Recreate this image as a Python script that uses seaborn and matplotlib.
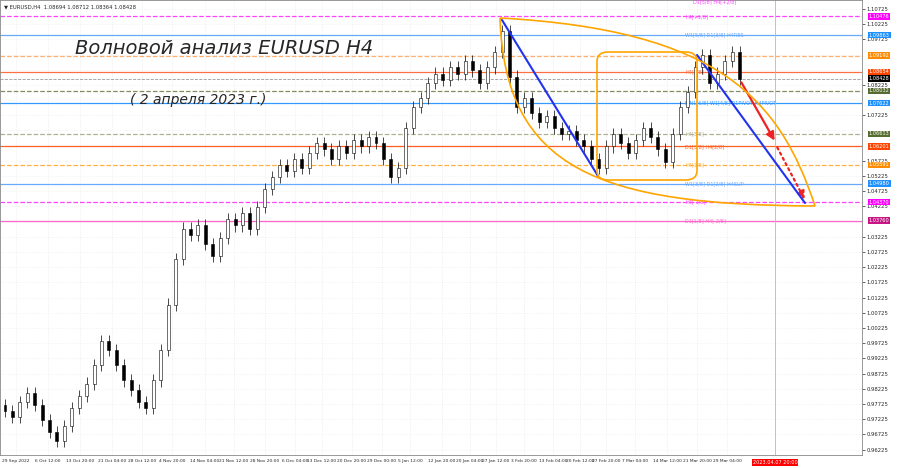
import numpy as np
import pandas as pd
import seaborn as sns
import matplotlib.pyplot as plt
from matplotlib.patches import FancyBboxPatch, PathPatch
from matplotlib.path import Path
from matplotlib.transforms import blended_transform_factory

# approximate closes of EURUSD H4 (resampled)
closes = [0.975, 0.973, 0.978, 0.981, 0.977, 0.972, 0.968, 0.965, 0.970, 0.976,
          0.980, 0.984, 0.990, 0.998, 0.995, 0.990, 0.985, 0.982, 0.978, 0.976,
          0.985, 0.995, 1.010, 1.025, 1.035, 1.033, 1.036, 1.030, 1.026, 1.032,
          1.038, 1.036, 1.040, 1.035, 1.042, 1.048, 1.052, 1.056, 1.054, 1.058,
          1.055, 1.060, 1.063, 1.061, 1.058, 1.062, 1.060, 1.064, 1.062, 1.065,
          1.063, 1.058, 1.052, 1.055, 1.068, 1.075, 1.078, 1.083, 1.086, 1.084,
          1.088, 1.086, 1.090, 1.087, 1.083, 1.088, 1.093, 1.100, 1.085, 1.075,
          1.078, 1.073, 1.070, 1.072, 1.068, 1.066, 1.067, 1.064, 1.062, 1.058,
          1.055, 1.062, 1.066, 1.063, 1.060, 1.064, 1.068, 1.065, 1.061, 1.057,
          1.066, 1.075, 1.080, 1.088, 1.092, 1.083, 1.086, 1.090, 1.093, 1.0843]
first_open = 0.977

tick_labels = ["29 Sep 2022", "6 Oct 12:00", "13 Oct 20:00", "21 Oct 04:00", "28 Oct 12:00",
               "4 Nov 20:00", "14 Nov 04:00", "21 Nov 12:00", "28 Nov 20:00", "6 Dec 04:00",
               "13 Dec 12:00", "20 Dec 20:00", "29 Dec 00:00", "5 Jan 12:00", "12 Jan 20:00",
               "20 Jan 04:00", "27 Jan 12:00", "3 Feb 20:00", "13 Feb 04:00", "20 Feb 12:00",
               "27 Feb 20:00", "7 Mar 04:00", "14 Mar 12:00", "21 Mar 20:00", "29 Mar 04:00"]
tick_px = [16, 48, 80, 112, 142, 172, 205, 234, 265, 295, 322, 352, 382, 410, 442,
           470, 496, 524, 553, 580, 606, 635, 667, 697, 727]

# horizontal Murrey / pivot levels
lvl_price = [1.10476, 1.09863, 1.09192, 1.08654, 1.08032, 1.07622, 1.06613,
             1.06201, 1.05591, 1.04980, 1.04370, 1.03760]
lvl_color = ["#ff44ff", "#66aaff", "#ffb070", "#ff7040", "#8a8a60", "#3399ff", "#b0b090",
             "#ff6020", "#ffb040", "#66aaff", "#ff44ff", "#ff66cc"]
lvl_style = ["--", "-", "--", "-", "--", "-", "--", "-", "--", "-", "--", "-"]
lvl_box = ["#ff00ff", "#1e90ff", "#ff8c00", "#ff4500", "#556b2f", "#1e90ff", "#556b2f",
           "#ff4500", "#ff8c00", "#1e90ff", "#ff00ff", "#c71585"]
lvl_text = ["H4[+1/8]", "W1[5/8] D1[3/8] H4RES", "", "H4[7/8]", "", "MN1[6/8] W1[4/8] D1PIVOT H4PIVOT",
            "H4[3/8]", "D1[3/8] H4[2/8]", "H4[1/8]", "W1[3/8] D1[2/8] H4SUP", "H4[-1/8]", "D1[1/8] H4[-2/8]"]
last_price = 1.08428

sns.set_theme(style="white")
plt.rcParams['font.family'] = ['DejaVu Sans']

fig = plt.figure(figsize=(9, 4.68), dpi=100)
ax = fig.add_axes([0.0, 13 / 468, 862 / 900, 455 / 468])

n = len(closes)
step = 7.42
x0px = 5
def px_x(p):
    return (p - x0px) / step
ymax, yscale = 1.10755 + 8 * 0.000329, 0.000329
def px_y(p):
    return ymax - p * yscale

df = pd.DataFrame({"i": np.arange(n), "close": closes})
df["open"] = [first_open] + closes[:-1]
df["high"] = df[["open", "close"]].max(axis=1) + 0.002
df["low"] = df[["open", "close"]].min(axis=1) - 0.002

ax.set_xlim(px_x(0), px_x(862))
ax.set_ylim(px_y(455), px_y(0))

# grid
for p in tick_px:
    ax.axvline(px_x(p), color="#e6e6e6", lw=0.5, ls=":", zorder=0)
yt = np.arange(0.96225, 1.108, 0.005)
for v in yt:
    ax.axhline(v, color="#ececec", lw=0.5, ls=":", zorder=0)

# levels
for p, c, s, t in zip(lvl_price, lvl_color, lvl_style, lvl_text):
    ax.axhline(p, color=c, lw=0.9, ls=s, zorder=1)
    if t:
        ax.text(px_x(685), p, t, color=c, fontsize=3.6, va="center", zorder=2)
ax.axhline(last_price, color="#999999", lw=0.6, ls="--", zorder=1)
ax.text(px_x(693), px_y(2), "D1[5/8] H4[+2/8]", color="#ff44ff", fontsize=3.6, va="center")

# candles
up = df["close"] >= df["open"]
ax.vlines(df["i"], df["low"], df["high"], color="black", lw=0.5, zorder=3)
ax.bar(df["i"][up], (df["close"] - df["open"])[up], bottom=df["open"][up], width=0.4,
       color="white", edgecolor="black", lw=0.4, zorder=4)
ax.bar(df["i"][~up], (df["open"] - df["close"])[~up], bottom=df["close"][~up], width=0.4,
       color="black", edgecolor="black", lw=0.4, zorder=4)

# annotations
P = lambda a, b: (px_x(a), px_y(b))
ax.plot(*zip(P(502, 20), P(598, 176)), color="#2233ee", lw=1.5, zorder=5)
ax.plot(*zip(P(697, 55), P(805, 203)), color="#2233ee", lw=1.5, zorder=5)
ax.annotate("", xy=P(776, 143), xytext=P(740, 80),
            arrowprops=dict(arrowstyle="-|>", color="#ee2222", lw=1.6))
ax.annotate("", xy=P(806, 202), xytext=P(776, 145),
            arrowprops=dict(arrowstyle="-|>", color="#ee2222", lw=1.6, ls=":"))
rect = FancyBboxPatch(P(597, 180), px_x(697) - px_x(597), px_y(52) - px_y(180),
                      boxstyle="round,pad=0,rounding_size=1.5", fill=False,
                      edgecolor="#ffa500", lw=1.2, zorder=5, mutation_aspect=0.002)
ax.add_patch(rect)
verts = [P(500, 18), P(505, 170), P(600, 205), P(815, 206),
         P(780, 100), P(720, 30), P(500, 18)]
codes = [Path.MOVETO, Path.CURVE4, Path.CURVE4, Path.CURVE4,
         Path.CURVE4, Path.CURVE4, Path.CURVE4]
ax.add_patch(PathPatch(Path(verts, codes), fill=False, edgecolor="#ffa500", lw=1.2, zorder=5))

# current time line
ax.axvline(px_x(775), color="#ff9999", lw=0.6, zorder=1)

# axes
boxed = lvl_price + [last_price]
yt_shown = [v for v in yt if min(abs(v - b) for b in boxed) > 0.0013]
ax.yaxis.tick_right()
ax.set_yticks(yt_shown)
ax.set_yticklabels([f"{v:.5f}" for v in yt_shown], fontsize=3.8)
ax.set_xticks([px_x(p) for p in tick_px])
ax.set_xticklabels(tick_labels, fontsize=3.2)
ax.tick_params(length=2, pad=1, width=0.5)
for s in ax.spines.values():
    s.set_linewidth(0.6)
    s.set_color("#888888")
ax.text(px_x(775), -0.01, "2023.04.07 20:00", transform=blended_transform_factory(ax.transData, ax.transAxes),
        fontsize=3.6, color="white", ha="center", va="top",
        bbox=dict(boxstyle="square,pad=0.2", fc="red", ec="none"))

tr = blended_transform_factory(ax.transAxes, ax.transData)
for p, c in zip(lvl_price, lvl_box):
    ax.text(1.008, p, f"{p:.5f}", transform=tr, fontsize=3.6, color="white", va="center",
            bbox=dict(boxstyle="square,pad=0.15", fc=c, ec="none"), zorder=6)
ax.text(1.008, last_price, f"{last_price:.5f}", transform=tr, fontsize=3.6, color="white",
        va="center", bbox=dict(boxstyle="square,pad=0.15", fc="black", ec="none"), zorder=6)

ax.text(0.005, 0.99, "\u25bc EURUSD,H4  1.08694 1.08712 1.08364 1.08428", transform=ax.transAxes,
        fontsize=3.8, va="top")
ax.text(px_x(75), px_y(48), "Волновой анализ EURUSD H4", fontsize=14, style="italic",
        va="center")
ax.text(px_x(130), px_y(100), "( 2 апреля 2023 г.)", fontsize=10, style="italic", va="center")

fig.savefig("out.png", dpi=100)
